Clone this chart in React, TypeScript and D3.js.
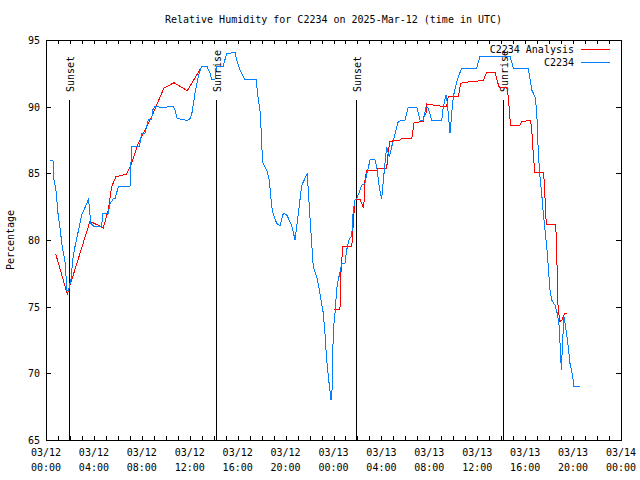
import React from "react";
import * as d3 from "d3";

const TITLE = "Relative Humidity for C2234 on 2025-Mar-12 (time in UTC)";
const Y_LABEL = "Percentage";
const SERIES_NAMES = ["C2234 Analysis", "C2234"];
const START = Date.UTC(2025, 2, 12, 0, 0);
const END = Date.UTC(2025, 2, 14, 0, 0);
const Y_TICKS = [65, 70, 75, 80, 85, 90, 95];

// hours after 2025-03-12 00:00 UTC
const obsHours = [
  0.33, 0.58, 0.67, 0.83, 1.0, 1.17, 1.34, 1.59, 1.75, 1.86, 1.95, 2.09, 2.23, 2.36, 2.56, 2.78,
  2.98, 3.17, 3.4, 3.53, 3.61, 3.73, 3.95, 4.65, 4.73, 5.2, 5.34, 5.62, 5.76, 6.04, 7.01, 7.15,
  7.79, 7.99, 8.26, 8.35, 8.54, 8.82, 8.91, 9.1, 9.79, 10.21, 10.63, 10.77, 10.96, 11.46, 11.75,
  12.02, 12.16, 12.44, 12.71, 13.0, 13.42, 13.69, 13.83, 14.11, 14.25, 14.8, 15.08, 15.78, 15.92,
  16.2, 16.47, 16.61, 17.53, 17.64, 17.72, 17.86, 18.01, 18.06, 18.42, 18.64, 18.84, 18.98, 19.26,
  19.53, 19.81, 20.09, 20.51, 20.79, 20.93, 21.2, 21.35, 21.81, 21.98, 22.18, 22.31, 22.6, 22.87,
  23.15, 23.29, 23.43, 23.57, 23.79, 23.9, 23.98, 24.15, 24.27, 24.4, 24.54, 24.71, 24.96, 25.1,
  25.32, 25.52, 25.65, 25.8, 25.94, 26.15, 26.35, 26.63, 26.77, 27.05, 27.46, 27.61, 27.82, 28.02,
  28.11, 28.3, 28.44, 28.66, 28.86, 29.41, 29.97, 30.24, 30.95, 31.22, 31.5, 31.72, 31.91, 32.2,
  33.03, 33.17, 33.39, 33.5, 33.73, 33.87, 34.0, 34.29, 34.7, 35.95, 36.23, 38.73, 39.01, 40.26,
  40.55, 40.82, 40.96, 41.1, 41.24, 41.38, 41.51, 41.66, 41.8, 41.93, 42.07, 42.22, 42.49, 42.68,
  42.85, 42.91, 43.02, 43.13, 43.24, 43.41, 43.6, 43.74, 43.97, 44.08, 44.58,
];
const obsValues = [
  86.0, 86.0, 84.5, 83.75, 82.0, 80.9, 79.6, 78.35, 76.25, 76.25, 76.5, 77.1, 78.5, 79.25, 80.1, 81.0,
  81.9, 82.25, 82.75, 83.05, 82.6, 81.25, 81.05, 81.05, 82.0, 82.0, 82.7, 83.1, 83.1, 84.0, 84.0, 87.0,
  87.0, 88.0, 88.0, 88.3, 89.0, 89.05, 89.75, 90.05, 89.9, 90.0, 90.0, 89.75, 89.1, 89.05, 88.95,
  89.1, 89.4, 91.0, 92.25, 93.05, 93.05, 92.5, 92.05, 92.05, 93.05, 93.05, 94.0, 94.05, 93.5,
  92.75, 92.25, 92.05, 92.05, 91.25, 90.5, 89.75, 87.5, 85.9, 85.25, 84.5, 82.5, 81.9, 81.25,
  81.05, 82.0, 81.9, 81.1, 80.0, 81.0, 83.0, 84.1, 85.0, 82.5, 79.75, 78.0, 77.25, 76.0,
  74.5, 73.0, 71.0, 69.75, 68.0, 69.0, 73.25, 74.75, 76.4, 77.0, 77.6, 78.25, 78.25, 79.25,
  80.1, 80.25, 82.25, 83.0, 83.1, 83.6, 84.1, 84.25, 84.9, 86.0, 86.05, 85.5, 84.0, 83.05,
  84.0, 85.75, 87.0, 86.25, 87.0, 88.9, 89.0, 89.95, 89.95, 89.0, 88.95, 89.95, 89.9, 88.95,
  88.95, 90.0, 90.9, 90.25, 88.0, 89.5, 90.75, 91.9, 92.9, 92.9, 93.8, 93.8, 92.9, 92.9,
  91.25, 90.75, 89.75, 86.5, 84.75, 83.5, 82.0, 80.75, 79.5, 78.0, 76.25, 75.5, 75.1, 74.5,
  73.5, 72.25, 70.25, 72.5, 74.25, 73.25, 72.0, 70.75, 69.75, 69.0, 69.0,
];

// analysis series; null marks the gap between the two runs
const anaHours = [
  0.81, 1.78, 3.67, 4.37, 4.78, 5.2, 5.48, 5.84, 6.74, 7.15, 7.71, 8.41, 8.82, 9.85, 10.69, 11.8, 12.86,
  18.0,
  24.07, 24.54, 24.6, 24.77, 25.52, 25.57, 25.65, 25.8, 26.21, 26.35, 26.49, 26.57, 26.63, 26.77, 27.61,
  27.74, 28.44, 28.58, 28.72, 29.55, 29.69, 30.53, 30.72, 31.5, 31.56, 31.72, 31.78, 32.89, 33.45,
  33.58, 34.42, 34.62, 34.79, 35.67, 36.51, 36.79, 37.48, 37.67, 37.84, 38.46, 38.59, 38.73, 38.79,
  39.57, 39.71, 40.46, 40.55, 40.63, 40.74, 40.76, 41.51, 41.6, 41.66, 41.71, 41.8, 42.55, 42.6,
  42.68, 42.74, 42.82, 42.85, 43.05, 43.18, 43.32, 43.52,
];
const anaValues: (number | null)[] = [
  78.95, 75.95, 81.4, 81.1, 80.9, 82.25, 84.0, 84.75, 84.95, 85.75, 87.25, 88.5, 89.25, 91.4, 91.8, 91.2, 92.8,
  null,
  74.8, 74.8, 77.25, 79.5, 79.5, 80.0, 81.25, 83.05, 83.05, 82.75, 82.4, 83.0, 84.5, 85.2, 85.2,
  85.4, 85.4, 86.75, 87.4, 87.5, 87.6, 87.6, 88.8, 88.9, 89.3, 89.5, 90.2, 90.05, 90.05,
  90.75, 90.75, 91.75, 91.8, 91.9, 91.95, 92.6, 92.6, 91.9, 91.45, 91.45, 90.75, 89.1, 88.6,
  88.6, 88.9, 88.95, 88.25, 87.1, 85.75, 85.05, 85.05, 84.4, 83.1, 81.75, 81.2, 81.2, 80.0,
  77.5, 75.1, 74.5, 73.9, 73.95, 74.25, 74.5, 74.5,
];

const eventLabels = ["Sunset", "Sunrise", "Sunset", "Sunrise"];
const eventHours = [1.95, 14.19, 25.88, 38.17];

const COLORS = ["#ff0000", "#0080ff"];
const FONT = "'DejaVu Sans Mono', 'Liberation Mono', monospace";

export default function App() {
  const W = 640, H = 480;
  const left = 46, right = 621, top = 40, bottom = 440;
  const toDate = (h: number) => new Date(START + h * 3600e3);
  const x = d3.scaleUtc().domain([new Date(START), new Date(END)]).range([left, right]);
  const y = d3.scaleLinear().domain([65, 95]).range([bottom, top]);

  const obs = obsHours.map((h, i) => ({ t: toDate(h), v: obsValues[i] as number | null }));
  const ana = anaHours.map((h, i) => ({ t: toDate(h), v: anaValues[i] }));
  const line = d3
    .line<{ t: Date; v: number | null }>()
    .defined((d) => d.v !== null)
    .x((d) => x(d.t))
    .y((d) => y(d.v as number));

  const majorTicks = x.ticks(d3.utcHour.every(4)!);
  const minorTicks = x.ticks(d3.utcHour.every(1)!);
  const fmtDate = d3.utcFormat("%m/%d");
  const fmtTime = d3.utcFormat("%H:%M");

  return (
    <svg width={W} height={H} style={{ position: "absolute", left: 0, top: 0, background: "#fff" }} fontFamily={FONT} fontSize={10}>
      <rect x={0} y={0} width={W} height={H} fill="#fff" />
      <text x={(left + right) / 2} y={23} textAnchor="middle">{TITLE}</text>
      <text transform={`translate(14,${(top + bottom) / 2}) rotate(-90)`} textAnchor="middle">{Y_LABEL}</text>

      {/* ticks */}
      <g stroke="#000" shapeRendering="crispEdges">
        {minorTicks.map((t, i) => {
          const xx = Math.round(x(t)) + 0.5;
          return (
            <g key={i}>
              <line x1={xx} x2={xx} y1={bottom} y2={bottom - 4} />
              <line x1={xx} x2={xx} y1={top} y2={top + 4} />
            </g>
          );
        })}
        {Y_TICKS.map((v, i) => {
          const yy = Math.round(y(v)) + 0.5;
          return (
            <g key={i}>
              <line x1={left} x2={left + 5} y1={yy} y2={yy} />
              <line x1={right} x2={right - 5} y1={yy} y2={yy} />
            </g>
          );
        })}
      </g>
      {Y_TICKS.map((v, i) => (
        <text key={i} x={40} y={y(v) + 4} textAnchor="end">{v}</text>
      ))}
      {majorTicks.map((t, i) => (
        <g key={i}>
          <text x={x(t)} y={456} textAnchor="middle">{fmtDate(t)}</text>
          <text x={x(t)} y={471} textAnchor="middle">{fmtTime(t)}</text>
        </g>
      ))}

      {/* sunrise / sunset */}
      {eventHours.map((h, i) => {
        const xx = Math.round(x(toDate(h))) + 0.5;
        return (
          <g key={i}>
            <line x1={xx} x2={xx} y1={100} y2={bottom} stroke="#000" shapeRendering="crispEdges" />
            <text transform={`translate(${xx + 4},92) rotate(-90)`} textAnchor="start">{eventLabels[i]}</text>
          </g>
        );
      })}

      {/* data */}
      <path d={line(ana) || ""} fill="none" stroke={COLORS[0]} strokeWidth={1} shapeRendering="crispEdges" />
      <path d={line(obs) || ""} fill="none" stroke={COLORS[1]} strokeWidth={1} shapeRendering="crispEdges" />

      {/* legend */}
      <text x={574} y={53} textAnchor="end">{SERIES_NAMES[0]}</text>
      <line x1={581} x2={610} y1={49.5} y2={49.5} stroke={COLORS[0]} shapeRendering="crispEdges" />
      <text x={574} y={66} textAnchor="end">{SERIES_NAMES[1]}</text>
      <line x1={581} x2={610} y1={62.5} y2={62.5} stroke={COLORS[1]} shapeRendering="crispEdges" />

      {/* frame */}
      <rect x={left + 0.5} y={top + 0.5} width={right - left} height={bottom - top} fill="none" stroke="#000" shapeRendering="crispEdges" />
    </svg>
  );
}
